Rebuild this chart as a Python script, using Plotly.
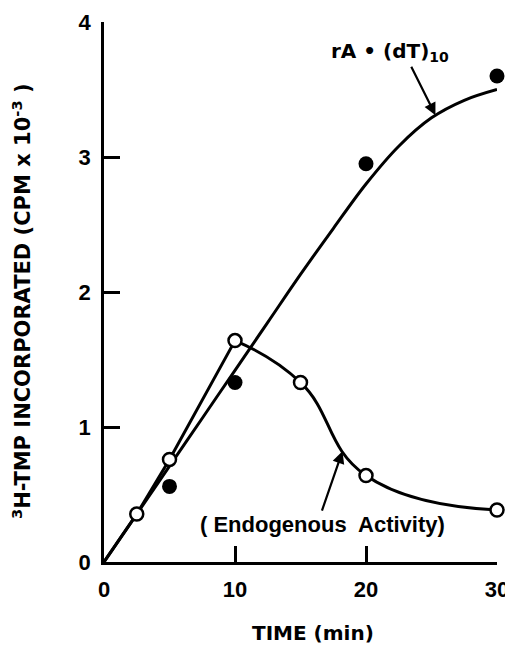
import plotly.graph_objects as go

# Data
time_rA = [5, 10, 20, 30]
cpm_rA = [0.56, 1.33, 2.95, 3.60]

fit_time_rA = [0, 2.5, 5, 7.5, 10, 12.5, 15, 17.5, 20, 22.5, 25, 27.5, 30]
fit_cpm_rA = [0, 0.355, 0.71, 1.065, 1.42, 1.775, 2.13, 2.47, 2.80, 3.08, 3.29, 3.42, 3.50]

time_endo = [0, 2.5, 5, 10, 15, 20, 30]
cpm_endo = [0, 0.355, 0.76, 1.64, 1.33, 0.64, 0.385]

x_ticks = [0, 10, 20, 30]
y_ticks = [0, 1, 2, 3, 4]

FONT = "Liberation Sans"
WIDE = "DejaVu Sans"
BLACK = "black"

fig = go.Figure()

# Fitted curve for rA•(dT)10
fig.add_trace(go.Scatter(x=fit_time_rA, y=fit_cpm_rA, mode="lines",
                         line=dict(color=BLACK, width=3, shape="spline", smoothing=1.0),
                         hoverinfo="skip", showlegend=False, cliponaxis=False))
# Endogenous activity: straight rise to 10 min, then smooth decline
fig.add_trace(go.Scatter(x=time_endo[:4], y=cpm_endo[:4], mode="lines",
                         line=dict(color=BLACK, width=3),
                         showlegend=False, cliponaxis=False))
fig.add_trace(go.Scatter(x=time_endo[3:], y=cpm_endo[3:], mode="lines",
                         line=dict(color=BLACK, width=3, shape="spline", smoothing=1.3),
                         showlegend=False, cliponaxis=False))
fig.add_trace(go.Scatter(x=time_endo[1:], y=cpm_endo[1:], mode="markers",
                         marker=dict(symbol="circle", size=13, color="white",
                                     line=dict(color=BLACK, width=2.5)),
                         showlegend=False, cliponaxis=False))
# rA•(dT)10 points (filled circles)
fig.add_trace(go.Scatter(x=time_rA, y=cpm_rA, mode="markers",
                         marker=dict(symbol="circle", size=15, color=BLACK),
                         showlegend=False, cliponaxis=False))

# Annotations with arrows
fig.add_annotation(x=25.3, y=3.31, ax=23.4, ay=3.68, xref="x", yref="y", axref="x", ayref="y",
                   showarrow=True, arrowhead=2, arrowsize=1.1, arrowwidth=2.2, arrowcolor=BLACK, text="")
fig.add_annotation(x=21.8, y=3.78, xref="x", yref="y", showarrow=False,
                   xanchor="center", yanchor="middle",
                   text="rA • (dT)<sub>10</sub>",
                   font=dict(family=WIDE, size=20, color=BLACK, weight="bold"))
fig.add_annotation(x=18.2, y=0.82, ax=16.6, ay=0.37, xref="x", yref="y", axref="x", ayref="y",
                   showarrow=True, arrowhead=2, arrowsize=1.1, arrowwidth=2.2, arrowcolor=BLACK, text="")
fig.add_annotation(x=16.7, y=0.28, xref="x", yref="y", showarrow=False,
                   xanchor="center", yanchor="middle",
                   text="( Endogenous  Activity)",
                   font=dict(family=FONT, size=22, color=BLACK, weight="bold"))

# Axis titles
fig.add_annotation(x=-0.209, y=0.483, xref="paper", yref="paper", showarrow=False, textangle=-90,
                   xanchor="center", yanchor="middle",
                   text="<sup>3</sup>H-TMP INCORPORATED (CPM x 10<sup>-3</sup> )",
                   font=dict(family=WIDE, size=21, color=BLACK, weight="bold"))
fig.add_annotation(x=0.533, y=-0.1315, xref="paper", yref="paper", showarrow=False,
                   xanchor="center", yanchor="middle",
                   text="TIME (min)",
                   font=dict(family=WIDE, size=20, color=BLACK, weight="bold"))

axis_common = dict(showgrid=False, zeroline=False, showline=True, linecolor=BLACK, linewidth=2.5,
                   ticks="inside", tickwidth=2.5, tickcolor=BLACK, ticklen=16,
                   ticklabelstandoff=6, automargin=False,
                   tickfont=dict(family=FONT, size=22, color=BLACK, weight="bold"))

fig.update_xaxes(range=[0, 30], tickvals=x_ticks, **axis_common)
fig.update_yaxes(range=[0, 4], tickvals=y_ticks, **axis_common)

# The page body adds an 8px offset, so margins are compensated
fig.update_layout(width=513, height=645, margin=dict(l=96, r=24, t=14, b=91),
                  plot_bgcolor="white", paper_bgcolor="white", showlegend=False)

fig.write_html("out.html")
